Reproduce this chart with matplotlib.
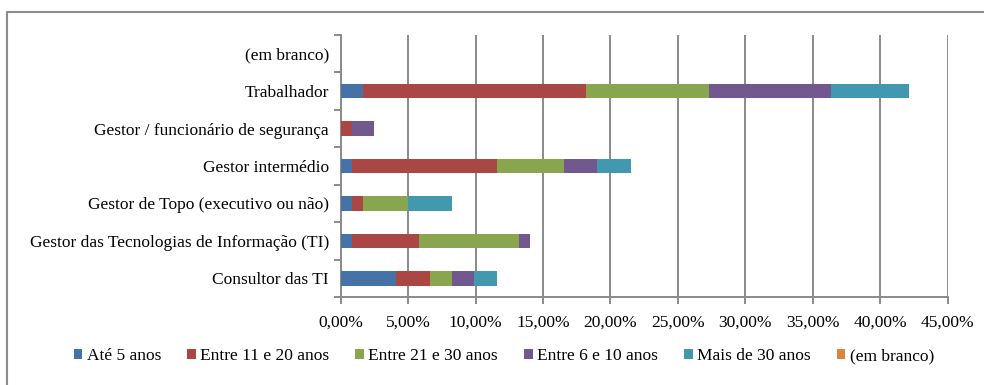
import numpy as np
import matplotlib.pyplot as plt
from matplotlib.patches import Patch
from matplotlib.lines import Line2D
from matplotlib.ticker import FuncFormatter

plt.rcParams['font.family'] = ['Liberation Serif', 'DejaVu Serif']

# categories listed bottom to top
categories = [
    "Consultor das TI",
    "Gestor das Tecnologias de Informação (TI)",
    "Gestor de Topo (executivo ou não)",
    "Gestor intermédio",
    "Gestor / funcionário de segurança",
    "Trabalhador",
    "(em branco)",
]
series_names = ["Até 5 anos", "Entre 11 e 20 anos", "Entre 21 e 30 anos",
                "Entre 6 e 10 anos", "Mais de 30 anos", "(em branco)"]

# share of respondents (%), one list per series, same order as categories
ate_5 = [4.13, 0.83, 0.83, 0.83, 0.00, 1.65, 0.00]
entre_11_20 = [2.48, 4.96, 0.83, 10.74, 0.83, 16.53, 0.00]
entre_21_30 = [1.65, 7.44, 3.31, 4.96, 0.00, 9.09, 0.00]
entre_6_10 = [1.65, 0.83, 0.00, 2.48, 1.65, 9.09, 0.00]
mais_30 = [1.65, 0.00, 3.31, 2.48, 0.00, 5.79, 0.00]
em_branco = [0.00, 0.00, 0.00, 0.00, 0.00, 0.00, 0.00]

series = [ate_5, entre_11_20, entre_21_30, entre_6_10, mais_30, em_branco]
colors = ["#4572A7", "#AA4643", "#89A54E", "#71588F", "#4198AF", "#DB843D"]
grid_col = "#8A8A8A"

fig = plt.figure(figsize=(9.84, 3.85), dpi=100)
ax = fig.add_axes([0.3462, 0.2286, 0.6169, 0.6805])

y = np.arange(len(categories))
left = np.zeros(len(categories))
for vals, col in zip(series, colors):
    v = np.array(vals) / 100
    ax.barh(y, v, left=left, height=0.39, color=col, zorder=3)
    left += v

ax.set_xlim(0, 0.45)
ax.set_ylim(-0.5, len(categories) - 0.5)
ax.set_xticks(np.arange(0, 0.451, 0.05))
ax.xaxis.set_major_formatter(
    FuncFormatter(lambda x, _: f"{x * 100:.2f}%".replace(".", ",")))
ax.grid(axis="x", color=grid_col, lw=1.4, zorder=1)

# category labels at centres, tick marks at band boundaries
ax.set_yticks(y)
ax.set_yticklabels(categories)
ax.set_yticks(np.arange(-0.5, len(categories)), minor=True)
ax.tick_params(axis="y", which="major", length=0, pad=8.5, labelsize=12.5)
ax.tick_params(axis="y", which="minor", length=5, color=grid_col, width=1.4)
ax.tick_params(axis="x", length=5, color=grid_col, width=1.4, pad=7.5,
               labelsize=12.5)

for s in ["top", "right"]:
    ax.spines[s].set_visible(False)
for s in ["left", "bottom"]:
    ax.spines[s].set_color(grid_col)
    ax.spines[s].set_linewidth(1.4)

handles = [Patch(facecolor=c, edgecolor="none") for c in colors]
fig.legend(handles, series_names, loc="center", ncol=6,
           bbox_to_anchor=(0.512, 0.075), frameon=False, fontsize=12.5,
           handlelength=0.5, handleheight=0.5, handletextpad=0.25,
           columnspacing=1.5)

# outer chart frame (left and top edges)
fig.add_artist(Line2D([7 / 984, 7 / 984, 1.0], [0.0, 1 - 12 / 385, 1 - 12 / 385],
                      transform=fig.transFigure, color="#8C8C8C", lw=1.5))

fig.savefig("out.png", dpi=100)
